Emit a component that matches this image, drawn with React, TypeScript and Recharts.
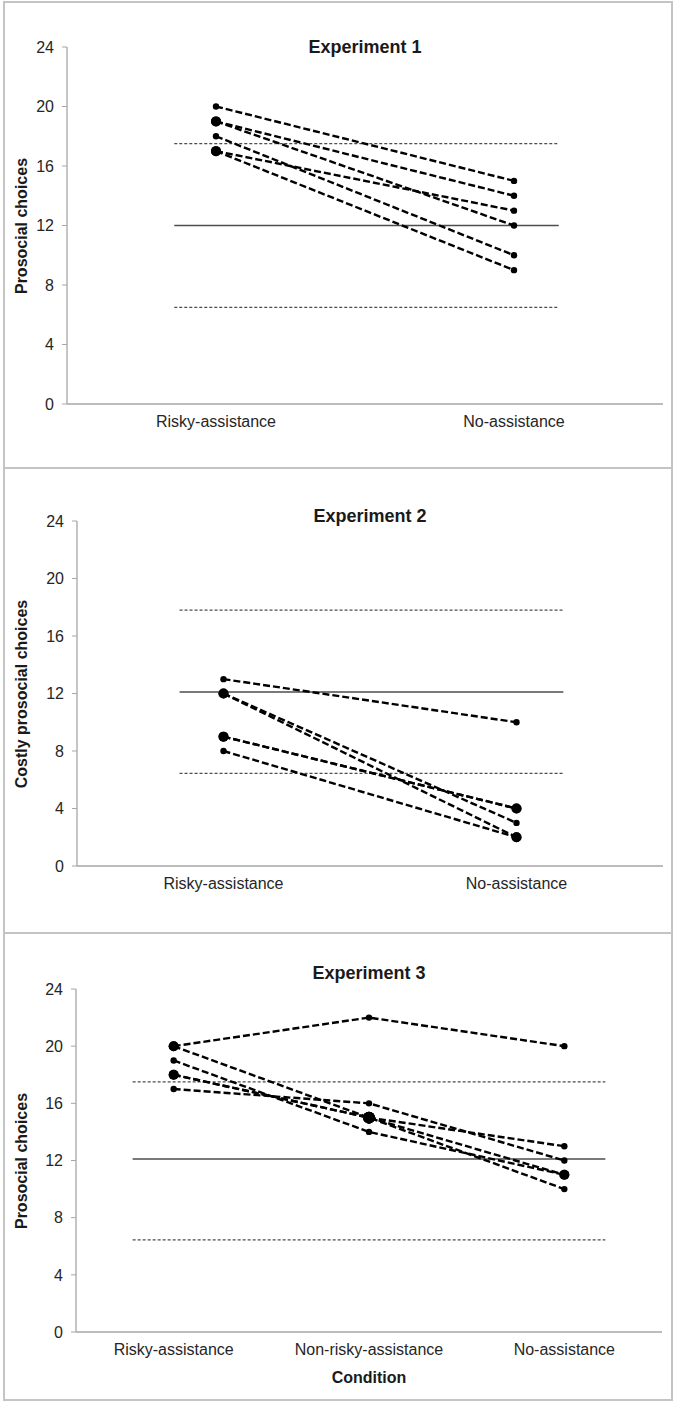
import { LineChart, Line, XAxis, YAxis, ReferenceLine } from "recharts";

const FONT = '"Liberation Sans", Arial, sans-serif';
const AXIS_GREY = "#a6a6a6";
const REF_GREY = "#4d4d4d";

// Experiment 1
const exp1Conditions = ["Risky-assistance", "No-assistance"];
const exp1Risky = [20, 19, 19, 18, 17, 17];
const exp1NoAssist = [15, 14, 12, 10, 13, 9];
const exp1Chance = [6.5, 12, 17.5]; // lower bound, mean, upper bound
const exp1RefSpan = [0.36, 1.65];

// Experiment 2
const exp2Conditions = ["Risky-assistance", "No-assistance"];
const exp2Risky = [13, 12, 12, 9, 9, 8];
const exp2NoAssist = [10, 3, 2, 4, 4, 2];
const exp2Chance = [6.45, 12.1, 17.8];
const exp2RefSpan = [0.35, 1.66];

// Experiment 3
const exp3Conditions = ["Risky-assistance", "Non-risky-assistance", "No-assistance"];
const exp3Risky = [20, 20, 19, 18, 18, 17];
const exp3NonRisky = [22, 15, 14, 15, 15, 16];
const exp3NoAssist = [20, 10, 11, 13, 11, 12];
const exp3Chance = [6.45, 12.1, 17.5];
const exp3RefSpan = [0.29, 2.71];

const yTicks = [0, 4, 8, 12, 16, 20, 24];

type PanelProps = {
  title: string;
  yLabel: string;
  conditions: string[];
  values: number[][];
  chance: number[];
  span: number[];
  top: number;
  height: number;
  margin: { top: number; right: number; bottom: number; left: number };
  titleY: number;
  xLabel?: string;
  xLabelY?: number;
};

function Panel({
  title,
  yLabel,
  conditions,
  values,
  chance,
  span,
  top,
  height,
  margin,
  titleY,
  xLabel,
  xLabelY,
}: PanelProps) {
  const width = 677;
  const yAxisWidth = 40;
  const plotLeft = margin.left + yAxisWidth;
  const plotWidth = width - plotLeft - margin.right;
  const plotTop = margin.top;
  const plotBottom = height - margin.bottom - 30;

  const participants = values[0].map((_, p) =>
    conditions.map((_, i) => ({ x: i + 0.5, y: values[i][p] }))
  );

  // how many participants share a point -> bigger marker
  const counts = new Map<string, number>();
  participants.forEach((pts) =>
    pts.forEach((pt) => {
      const k = `${pt.x}-${pt.y}`;
      counts.set(k, (counts.get(k) ?? 0) + 1);
    })
  );

  const renderDot = (props: any) => {
    const { cx, cy, payload, index } = props;
    const n = counts.get(`${payload.x}-${payload.y}`) ?? 1;
    const r = n >= 3 ? 6 : n === 2 ? 5 : 3.2;
    return <circle key={`d${index}`} cx={cx} cy={cy} r={r} fill="#000" />;
  };

  const [lo, mean, hi] = chance;

  return (
    <div style={{ position: "absolute", left: 0, top, width, height }}>
      <LineChart width={width} height={height} margin={margin}>
        <XAxis
          type="number"
          dataKey="x"
          domain={[0, conditions.length]}
          ticks={conditions.map((_, i) => i + 0.5)}
          tickFormatter={(v) => conditions[Math.floor(v)]}
          tickLine={false}
          tickMargin={6}
          height={30}
          axisLine={{ stroke: AXIS_GREY, strokeWidth: 1.3 }}
          tick={{ fontSize: 16, fill: "#262626", fontFamily: FONT }}
          allowDataOverflow
        />
        <YAxis
          type="number"
          domain={[0, 24]}
          ticks={yTicks}
          width={yAxisWidth}
          tickSize={5}
          tickMargin={8}
          axisLine={{ stroke: AXIS_GREY, strokeWidth: 1.3 }}
          tickLine={{ stroke: AXIS_GREY }}
          tick={{ fontSize: 16, fill: "#262626", fontFamily: FONT }}
        />
        <ReferenceLine
          segment={[
            { x: span[0], y: hi },
            { x: span[1], y: hi },
          ]}
          stroke={REF_GREY}
          strokeWidth={1.2}
          strokeDasharray="3 2"
        />
        <ReferenceLine
          segment={[
            { x: span[0], y: mean },
            { x: span[1], y: mean },
          ]}
          stroke={REF_GREY}
          strokeWidth={1.6}
        />
        <ReferenceLine
          segment={[
            { x: span[0], y: lo },
            { x: span[1], y: lo },
          ]}
          stroke={REF_GREY}
          strokeWidth={1.2}
          strokeDasharray="3 2"
        />
        {participants.map((pts, p) => (
          <Line
            key={p}
            name={`p${p}`}
            data={pts}
            dataKey="y"
            type="linear"
            stroke="#000"
            strokeWidth={2.4}
            strokeDasharray="7 3"
            dot={renderDot}
            activeDot={false}
            isAnimationActive={false}
          />
        ))}
      </LineChart>
      <div
        style={{
          position: "absolute",
          left: plotLeft,
          width: plotWidth,
          top: titleY - 11,
          lineHeight: "22px",
          textAlign: "center",
          fontFamily: FONT,
          fontWeight: "bold",
          fontSize: 18,
          color: "#1a1a1a",
        }}
      >
        {title}
      </div>
      <div
        style={{
          position: "absolute",
          left: 22 - 150,
          top: (plotTop + plotBottom) / 2 - 10,
          width: 300,
          lineHeight: "20px",
          textAlign: "center",
          transform: "rotate(-90deg)",
          fontFamily: FONT,
          fontWeight: "bold",
          fontSize: 16,
          color: "#1a1a1a",
        }}
      >
        {yLabel}
      </div>
      {xLabel ? (
        <div
          style={{
            position: "absolute",
            left: plotLeft,
            width: plotWidth,
            top: (xLabelY ?? 0) - 10,
            lineHeight: "20px",
            textAlign: "center",
            fontFamily: FONT,
            fontWeight: "bold",
            fontSize: 16,
            color: "#1a1a1a",
          }}
        >
          {xLabel}
        </div>
      ) : null}
    </div>
  );
}

const boxStyle = (top: number, height: number) => ({
  position: "absolute" as const,
  left: 3,
  top,
  width: 670,
  height,
  border: "2px solid #c4c4c4",
  boxSizing: "border-box" as const,
});

export default function App() {
  return (
    <div
      style={{
        position: "absolute",
        left: 0,
        top: 0,
        width: 677,
        height: 1402,
        background: "#fff",
        overflow: "hidden",
      }}
    >
      <div style={boxStyle(1, 468)} />
      <div style={boxStyle(467, 467)} />
      <div style={boxStyle(932, 469)} />
      <Panel
        title="Experiment 1"
        yLabel="Prosocial choices"
        conditions={exp1Conditions}
        values={[exp1Risky, exp1NoAssist]}
        chance={exp1Chance}
        span={exp1RefSpan}
        top={0}
        height={467}
        margin={{ top: 47, right: 14, bottom: 33, left: 27 }}
        titleY={47}
      />
      <Panel
        title="Experiment 2"
        yLabel="Costly prosocial choices"
        conditions={exp2Conditions}
        values={[exp2Risky, exp2NoAssist]}
        chance={exp2Chance}
        span={exp2RefSpan}
        top={467}
        height={465}
        margin={{ top: 54, right: 14, bottom: 36, left: 37 }}
        titleY={49}
      />
      <Panel
        title="Experiment 3"
        yLabel="Prosocial choices"
        conditions={exp3Conditions}
        values={[exp3Risky, exp3NonRisky, exp3NoAssist]}
        chance={exp3Chance}
        span={exp3RefSpan}
        top={932}
        height={467}
        margin={{ top: 57, right: 15, bottom: 37, left: 36 }}
        titleY={41}
        xLabel="Condition"
        xLabelY={446}
      />
    </div>
  );
}
